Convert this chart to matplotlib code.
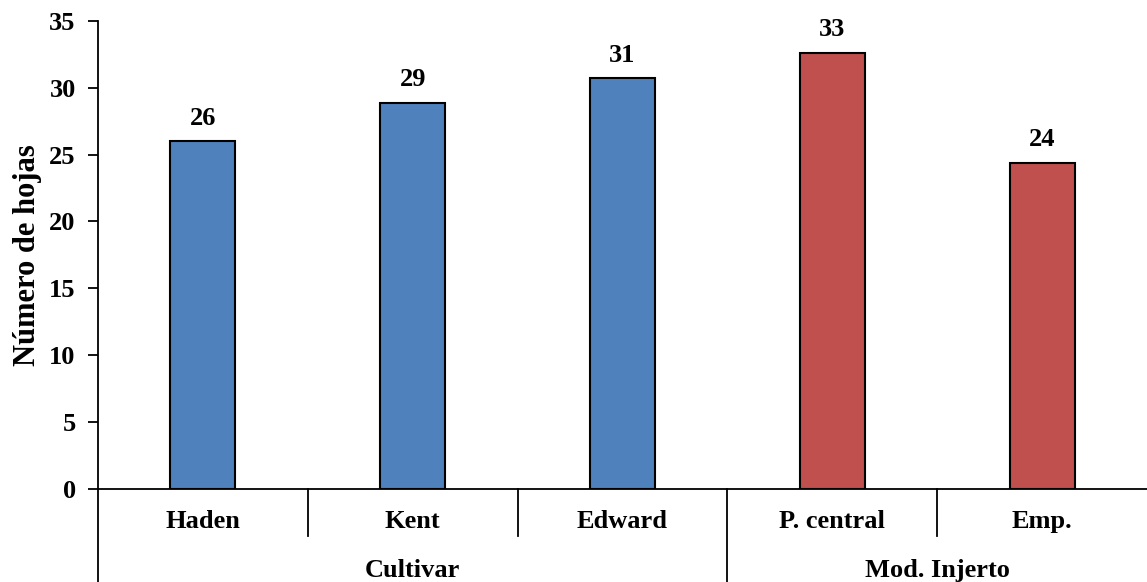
import numpy as np
from matplotlib import pyplot as plt

plt.rcParams['font.family'] = ['Liberation Serif', 'DejaVu Serif']
plt.rcParams['font.weight'] = 'bold'

categories = ['Haden', 'Kent', 'Edward', 'P. central', 'Emp.']
values = [26.0, 28.9, 30.7, 32.6, 24.4]
groups = ['Cultivar', 'Mod. Injerto']
group_sizes = [3, 2]
colors = ['#4F81BD', '#4F81BD', '#4F81BD', '#C0504D', '#C0504D']

fs = 19

fig = plt.figure(figsize=(11.47, 5.82), dpi=100)
ax = fig.add_axes([0.0854, 0.160, 0.9146, 0.804])

x = np.arange(len(categories))
ax.bar(x, values, width=0.31, color=colors, edgecolor='black', linewidth=1.5, zorder=3)
for xi, v in zip(x, values):
    ax.annotate('{:.0f}'.format(v), (xi, v), xytext=(0, 12), textcoords='offset points',
                ha='center', va='baseline', fontsize=fs, fontweight='bold')

ax.set_xlim(-0.5, len(categories) - 0.5)
ax.set_ylim(0, 35)
ax.set_yticks(range(0, 36, 5))
ax.tick_params(axis='y', direction='out', length=7, width=1.3, labelsize=fs, pad=9)
ax.set_xticks([])
for s in ['top', 'right']:
    ax.spines[s].set_visible(False)
ax.spines['left'].set_linewidth(1.3)
ax.spines['bottom'].set_linewidth(1.3)
ax.set_ylabel('Número de hojas', fontsize=22, fontweight='bold', labelpad=5)

# multi-level category axis
tr = ax.get_xaxis_transform()
for xi, name in zip(x, categories):
    ax.text(xi, -0.083, name, transform=tr, ha='center', va='baseline', fontsize=fs, fontweight='bold')
bounds = np.cumsum(group_sizes)
start = 0
for gname, size in zip(groups, group_sizes):
    ax.text(start + (size - 1) / 2, -0.188, gname, transform=tr, ha='center', va='baseline',
            fontsize=fs, fontweight='bold')
    start += size
for b in range(1, len(categories)):
    low = -0.2 if b in bounds else -0.1
    ax.plot([b - 0.5, b - 0.5], [0, low], transform=tr, color='black', lw=1.3, clip_on=False)
ax.plot([-0.5, -0.5], [0, -0.2], transform=tr, color='black', lw=1.3, clip_on=False)

plt.savefig('out.png', dpi=100)
